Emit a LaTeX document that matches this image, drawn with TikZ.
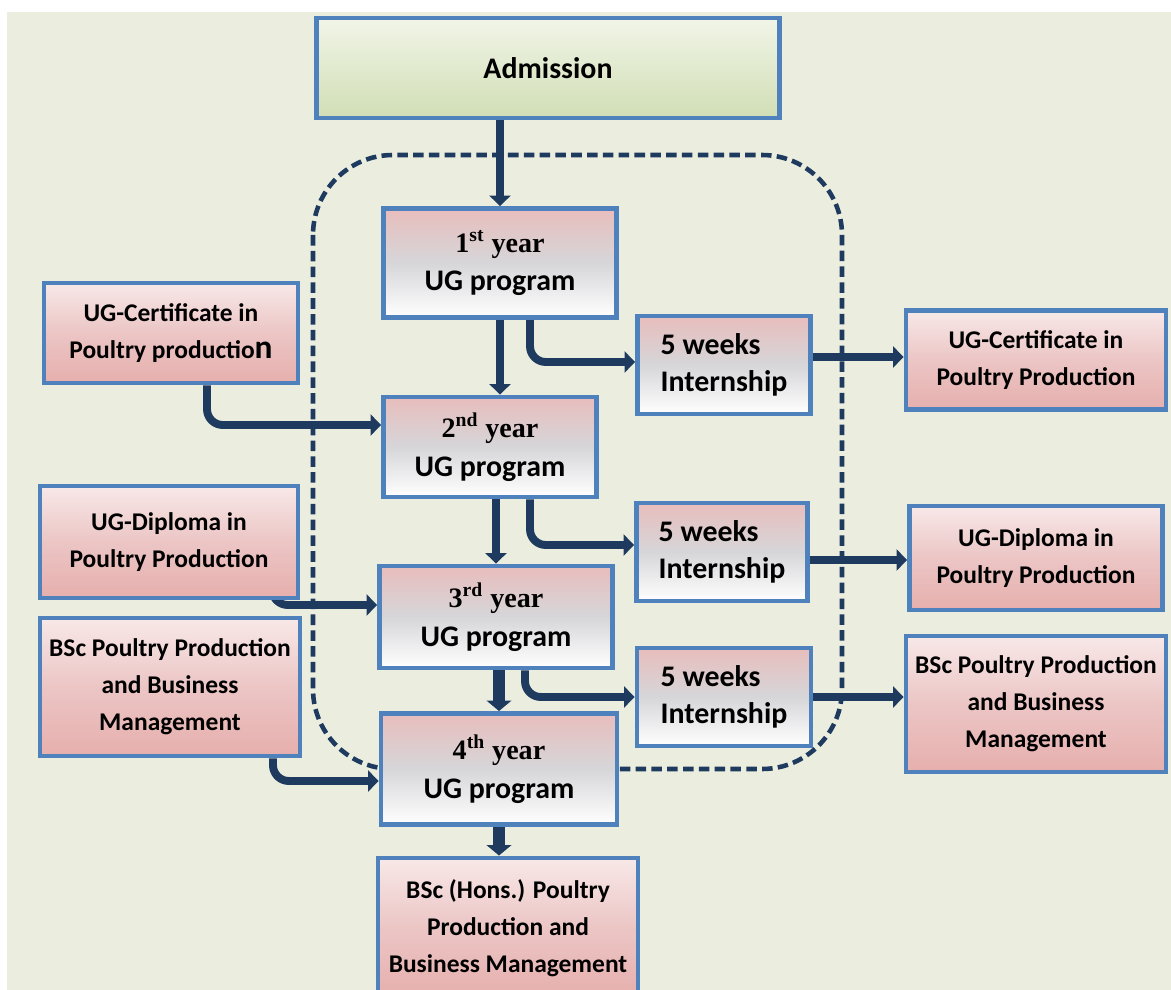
\documentclass[tikz,border=0pt]{standalone}
\usepackage{fontspec}
\setmainfont{Carlito}
\newfontfamily\timesfont{Liberation Serif}
\usetikzlibrary{arrows.meta}

\definecolor{fondoverde}{HTML}{EBEEDF}
\definecolor{bordeazul}{HTML}{4F81BD}
\definecolor{flechaazul}{HTML}{1E3A5F}
\definecolor{rosaarriba}{HTML}{E8BDBC}
\definecolor{grismedio}{HTML}{D6D6D9}
\definecolor{rosaclaro}{HTML}{F8E8E8}
\definecolor{rosaoscuro}{HTML}{E6AFAD}
\definecolor{verdearriba}{HTML}{F1F5E8}
\definecolor{verdeabajo}{HTML}{D1DEB5}

\newcommand{\curso}[2]{{\timesfont\fontsize{16}{22}\selectfont #1\textsuperscript{#2} year}\\UG program}

\pgfdeclarelayer{capafondo}
\pgfdeclarelayer{capaflechas}
\pgfsetlayers{capafondo,capaflechas,main}

\begin{document}
\begin{tikzpicture}[x=0.02cm, y=-0.02cm]
  % Define box and arrow styles
  \tikzstyle{cajabase} = [draw=bordeazul, line width=2.8pt, rectangle,
  align=center, inner sep=2pt, font=\bfseries]
  \tikzstyle{cajacurso} = [cajabase, top color=rosaarriba, bottom color=white,
  middle color=grismedio, font=\bfseries\fontsize{17}{22}\selectfont]
  \tikzstyle{cajapractica} = [cajacurso, align=left,
  font=\bfseries\fontsize{17}{21}\selectfont]
  \tikzstyle{cajatitulo} = [cajabase, top color=rosaclaro, bottom color=rosaoscuro,
  middle color=rosaarriba!80!rosaclaro, font=\bfseries\fontsize{14.5}{21}\selectfont]
  \tikzstyle{flecha} = [draw=flechaazul, line width=4.5pt, rounded corners=9pt,
  -{Triangle[length=6pt, width=12pt]}]
  \tikzstyle{flechagruesa} = [flecha, line width=7pt,
  -{Triangle[length=6pt, width=14pt]}]

  \useasboundingbox (0,0) rectangle (1171,990);
  \begin{pgfonlayer}{capafondo}
    \fill[white] (0,0) rectangle (1171,990);
    \fill[fondoverde] (7,12) rectangle (1171,990);
  \end{pgfonlayer}

  % Dashed frame round the UG program
  \draw[flechaazul, line width=2.6pt, dash pattern=on 6pt off 3pt,
  rounded corners=1.6cm] (313,155) rectangle (842,769);

  % Main column
  \node[cajabase, top color=verdearriba, bottom color=verdeabajo,
  minimum width=9.28cm, minimum height=2cm,
  font=\bfseries\fontsize{17}{21}\selectfont] (admision) at (548,68) {Admission};
  \node[cajacurso, minimum width=4.66cm, minimum height=2.18cm] (curso1) at (500,263) {\curso{1}{st}};
  \node[cajacurso, minimum width=4.26cm, minimum height=2cm] (curso2) at (490,447) {\curso{2}{nd}};
  \node[cajacurso, minimum width=4.66cm, minimum height=2.04cm] (curso3) at (496,617) {\curso{3}{rd}};
  \node[cajacurso, minimum width=4.72cm, minimum height=2.22cm] (curso4) at (499,769) {\curso{4}{th}};
  \node[cajatitulo, minimum width=5.2cm, minimum height=2.8cm] (honores) at (508,928)
  {BSc (Hons.) Poultry\\Production and\\Business Management};

  % Internships
  \node[cajapractica, minimum width=3.46cm, minimum height=1.96cm] (practica1) at (724,365) {5 weeks\\Internship};
  \node[cajapractica, minimum width=3.42cm, minimum height=1.96cm] (practica2) at (722,552) {5 weeks\\Internship};
  \node[cajapractica, minimum width=3.48cm, minimum height=1.96cm] (practica3) at (724,697) {5 weeks\\Internship};

  % Entry titles (left)
  \node[cajatitulo, minimum width=5.08cm, minimum height=2cm] (certizq) at (171,333)
  {UG-Certificate in\\Poultry productio{\fontsize{19}{21}\selectfont n}};
  \node[cajatitulo, minimum width=5.16cm, minimum height=2.24cm] (dipizq) at (169,542)
  {UG-Diploma in\\Poultry Production};
  \node[cajatitulo, minimum width=5.2cm, minimum height=2.76cm] (bscizq) at (170,687)
  {BSc Poultry Production\\and Business\\Management};

  % Exit titles (right)
  \node[cajatitulo, minimum width=5.2cm, minimum height=1.98cm] (certder) at (1036,360)
  {UG-Certificate in\\Poultry Production};
  \node[cajatitulo, minimum width=5.06cm, minimum height=2.08cm] (dipder) at (1036,558)
  {UG-Diploma in\\Poultry Production};
  \node[cajatitulo, minimum width=5.2cm, minimum height=2.72cm] (bscder) at (1036,704)
  {BSc Poultry Production\\and Business\\Management};

  \begin{pgfonlayer}{capaflechas}
    \draw[flecha] (curso1.north |- admision.south) -- (curso1.north);
    \draw[flecha] (curso1.south) -- (curso1.south |- curso2.north);
    \draw[flecha] (curso3.north |- curso2.south) -- (curso3.north);
    \draw[flechagruesa] (curso4.north |- curso3.south) -- (curso4.north);
    \draw[flechagruesa] (curso4.south) -- (curso4.south |- honores.north);
    % to the internships
    \draw[flecha] ([xshift=0.6cm]curso1.south) |- ([yshift=0.06cm]practica1.west);
    \draw[flecha] ([xshift=0.8cm]curso2.south) |- ([yshift=0.14cm]practica2.west);
    \draw[flecha] ([xshift=0.58cm]curso3.south) |- (practica3.west);
    \draw[flecha] ([yshift=0.16cm]practica1.east) -- ([yshift=0.16cm]practica1.east -| certder.west);
    \draw[flecha] ([yshift=-0.16cm]practica2.east) -- ([yshift=-0.16cm]practica2.east -| dipder.west);
    \draw[flecha] (practica3.east) -- (practica3.east -| bscder.west);
    % lateral entries
    \draw[flecha] ([xshift=0.72cm]certizq.south) |- ([yshift=0.44cm]curso2.west);
    \draw[flecha] ([xshift=2.06cm, yshift=0.16cm]dipizq.south) |- ([yshift=0.24cm]curso3.west);
    \draw[flecha] ([xshift=2.06cm]bscizq.south) |- ([yshift=-0.24cm]curso4.west);
  \end{pgfonlayer}
\end{tikzpicture}
\end{document}
